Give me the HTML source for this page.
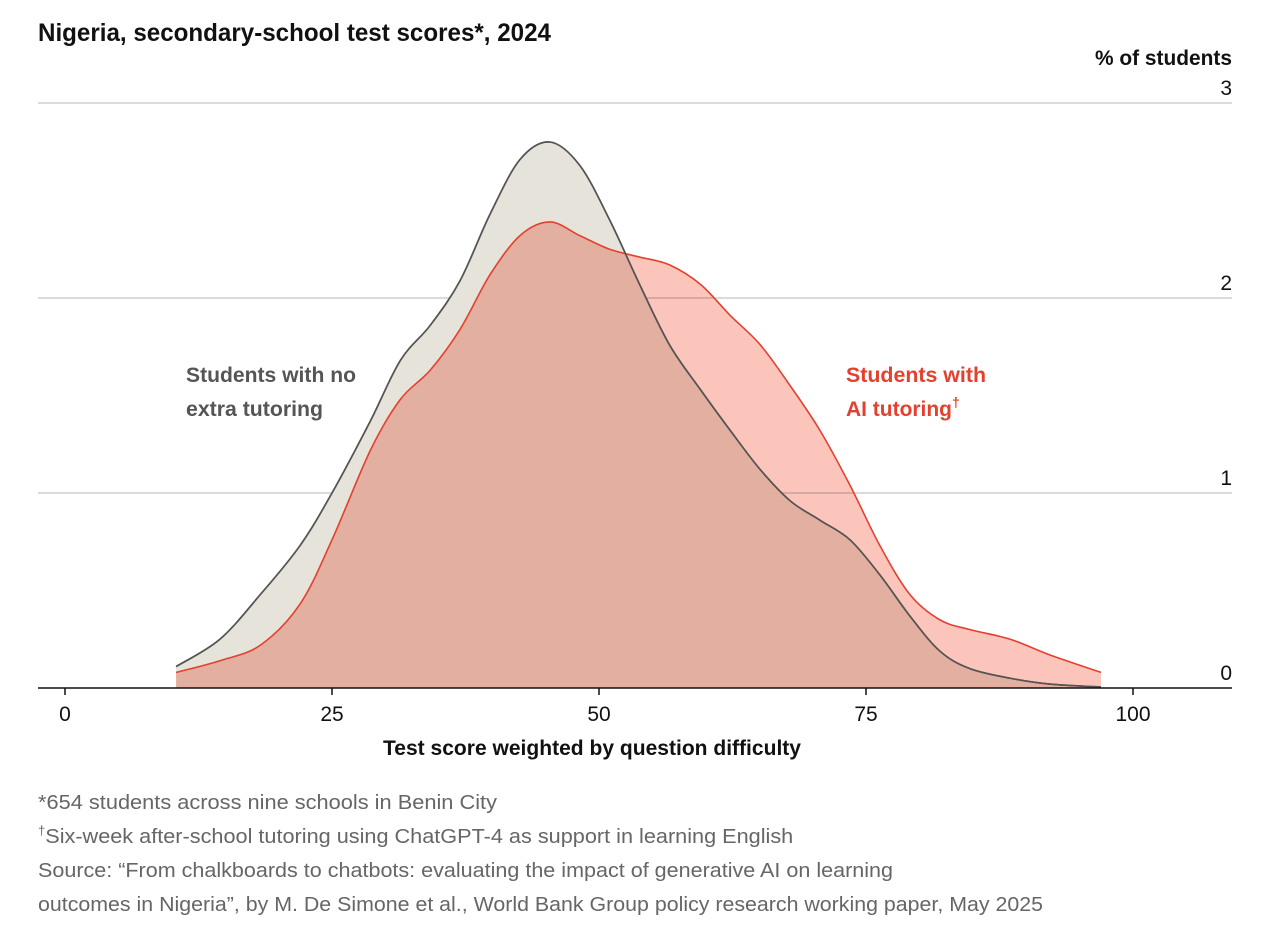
<!DOCTYPE html>
<html><head><meta charset="utf-8"><style>
html,body{margin:0;padding:0;background:#fff;}
svg{display:block;font-family:"Liberation Sans",sans-serif;}
</style></head><body>
<svg id="chart" width="1280" height="951" viewBox="0 0 1280 951" xmlns="http://www.w3.org/2000/svg">
<text x="38" y="41" font-size="25" font-weight="bold" fill="#111" textLength="513" lengthAdjust="spacingAndGlyphs">Nigeria, secondary-school test scores*, 2024</text>
<text x="1232" y="65" font-size="21" font-weight="bold" fill="#111" text-anchor="end" textLength="137" lengthAdjust="spacingAndGlyphs">% of students</text>
<g id="grid"></g>
<g id="series"></g>
<g id="axis"></g>
<text x="186" y="382" font-size="21" font-weight="bold" fill="#555" textLength="170" lengthAdjust="spacingAndGlyphs">Students with no</text>
<text x="186" y="416" font-size="21" font-weight="bold" fill="#555" textLength="137" lengthAdjust="spacingAndGlyphs">extra tutoring</text>
<text x="846" y="382" font-size="21" font-weight="bold" fill="#e3412f" textLength="140" lengthAdjust="spacingAndGlyphs">Students with</text>
<text x="846" y="416" font-size="21" font-weight="bold" fill="#e3412f"><tspan textLength="106" lengthAdjust="spacingAndGlyphs">AI tutoring</tspan><tspan font-size="14" dy="-9">†</tspan></text>
<text x="592" y="755" font-size="21" font-weight="bold" fill="#111" text-anchor="middle" textLength="418" lengthAdjust="spacingAndGlyphs">Test score weighted by question difficulty</text>
<g font-size="20" fill="#666">
<text x="38" y="809" textLength="459" lengthAdjust="spacingAndGlyphs">*654 students across nine schools in Benin City</text>
<text x="38" y="843"><tspan font-size="13" dy="-8">†</tspan><tspan dy="8" textLength="748" lengthAdjust="spacingAndGlyphs">Six-week after-school tutoring using ChatGPT-4 as support in learning English</tspan></text>
<text x="38" y="877" textLength="855" lengthAdjust="spacingAndGlyphs">Source: “From chalkboards to chatbots: evaluating the impact of generative AI on learning</text>
<text x="38" y="911" textLength="1005" lengthAdjust="spacingAndGlyphs">outcomes in Nigeria”, by M. De Simone et al., World Bank Group policy research working paper, May 2025</text>
</g>
</svg>
<script>
const scores = [10.4,14.5,18.3,22,25,28.6,31.4,34.2,37,39.8,42.6,45.4,48.2,51,53.8,56.6,59.5,62.3,65.1,67.9,70.7,73.5,76.3,79.1,81.9,84.7,88.5,92.2,97];
const noTutoring = [0.11,0.25,0.48,0.73,1.0,1.37,1.68,1.86,2.09,2.43,2.71,2.8,2.68,2.4,2.07,1.76,1.53,1.32,1.12,0.96,0.86,0.76,0.58,0.37,0.19,0.1,0.05,0.02,0.005];
const aiTutoring = [0.08,0.14,0.22,0.43,0.76,1.22,1.48,1.63,1.84,2.12,2.32,2.39,2.32,2.25,2.21,2.17,2.07,1.91,1.76,1.55,1.32,1.04,0.73,0.48,0.35,0.3,0.25,0.17,0.08];
const xTicks = [0,25,50,75,100];
const yTicks = [0,1,2,3];

const NS = "http://www.w3.org/2000/svg";
const xs = v => 65 + v * 10.68;
const ys = v => 688 - v * 195;
function mk(tag, attrs, parent){const e=document.createElementNS(NS,tag);for(const k in attrs)e.setAttribute(k,attrs[k]);parent.appendChild(e);return e;}

const grid = document.getElementById('grid');
yTicks.forEach(t=>{
  if(t>0){
    const l = mk('line',{x1:38,x2:1232,y1:ys(t),y2:ys(t),stroke:'#cfcfcf','stroke-width':1.5},grid);
    
    
  }
  const tx = mk('text',{x:1232,y:ys(t)-8,'font-size':21,fill:'#111','text-anchor':'end'},grid);
  tx.textContent = t;
  
  
});

function smoothPath(xv, yv){
  const p = xv.map((x,i)=>[xs(x), ys(yv[i])]);
  let d = 'M'+p[0][0]+','+p[0][1];
  for(let i=0;i<p.length-1;i++){
    const p0=p[Math.max(0,i-1)],p1=p[i],p2=p[i+1],p3=p[Math.min(p.length-1,i+2)];
    const c1=[p1[0]+(p2[0]-p0[0])/6,p1[1]+(p2[1]-p0[1])/6];
    const c2=[p2[0]-(p3[0]-p1[0])/6,p2[1]-(p3[1]-p1[1])/6];
    d+=' C'+c1[0]+','+c1[1]+' '+c2[0]+','+c2[1]+' '+p2[0]+','+p2[1];
  }
  return d;
}
const series = document.getElementById('series');
function drawSeries(vals, fill, stroke, name, blend){
  const line = smoothPath(scores, vals);
  const area = line + ' L'+xs(scores[scores.length-1])+','+ys(0)+' L'+xs(scores[0])+','+ys(0)+' Z';
  const a = mk('path',{d:area,fill:fill,stroke:'none'},series);
  if(blend) a.style.mixBlendMode='multiply';
  
  
  const l = mk('path',{d:line,fill:'none',stroke:stroke,'stroke-width':1.6},series);
  
  
}
drawSeries(noTutoring,'#e6e3da','#555','no-tutoring',false);
drawSeries(aiTutoring,'#fcc5bb','#e3412f','ai-tutoring',true);
// redraw gray line on top
const gl = mk('path',{d:smoothPath(scores,noTutoring),fill:'none',stroke:'#555','stroke-width':1.6},series);



const axis = document.getElementById('axis');
const base = mk('line',{x1:38,x2:1232,y1:688,y2:688,stroke:'#111','stroke-width':1.6},axis);


xTicks.forEach(t=>{
  const tk = mk('line',{x1:xs(t),x2:xs(t),y1:688,y2:695,stroke:'#111','stroke-width':1.5},axis);
  
  
  const tx = mk('text',{x:xs(t),y:721,'font-size':21,fill:'#111','text-anchor':'middle'},axis);
  tx.textContent = t;
  
  
});
</script>
</body></html>
